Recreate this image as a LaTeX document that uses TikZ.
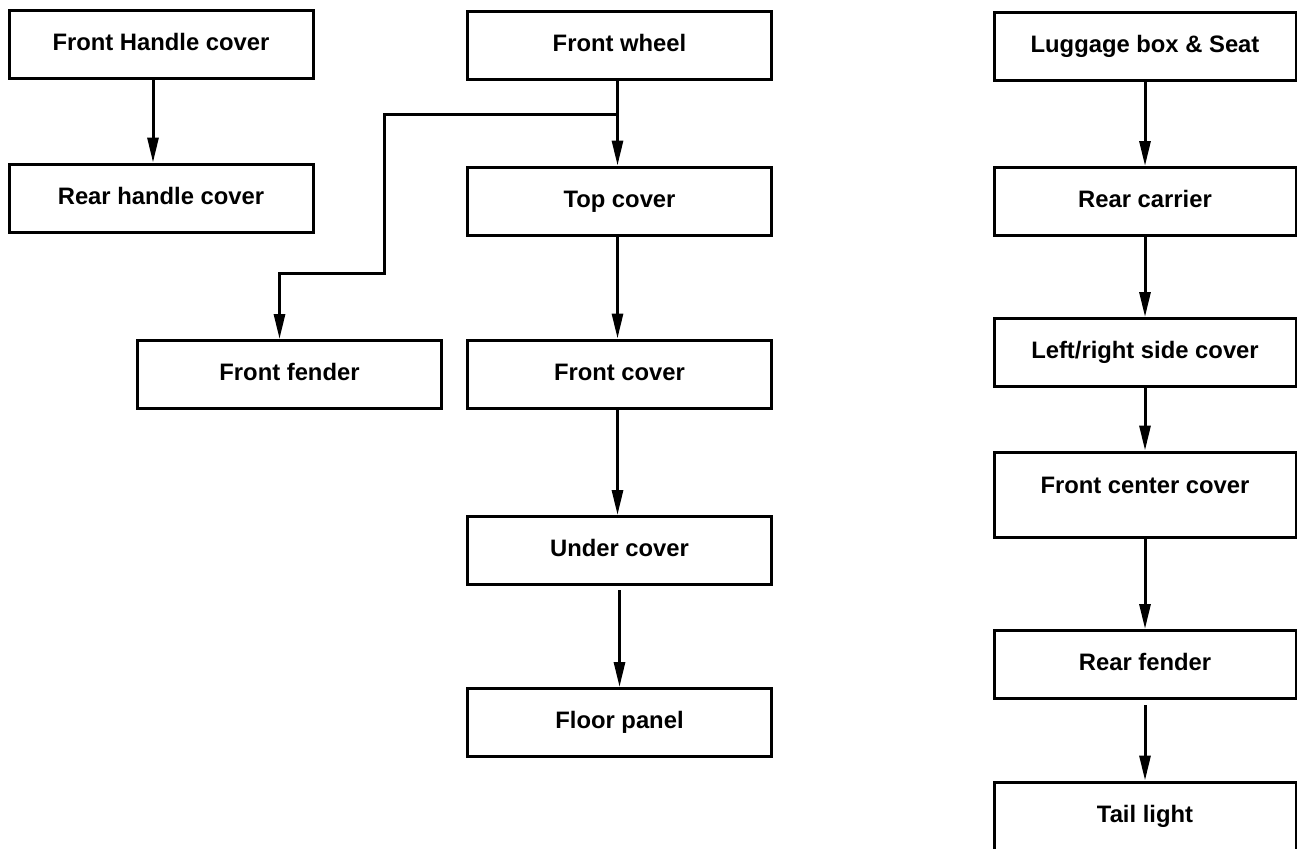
\documentclass[tikz,border=0pt]{standalone}
\usepackage{fontspec}
\setmainfont{Liberation Sans}
\usetikzlibrary{arrows.meta}

\begin{document}
\begin{tikzpicture}[x=1pt, y=-1pt,
    part/.style={draw, line width=3pt, minimum width=304pt, minimum height=68pt, inner sep=0pt,
      font=\fontsize{23.8}{28}\selectfont\bfseries, text height=17pt, text depth=5pt},
    link/.style={line width=3pt, -{Triangle[length=25pt,width=11pt]}}]
        \useasboundingbox (0,0) rectangle (1297,848);
        \clip (0,0) rectangle (1297,848);

        \node[part] (fhandle) at (161,45) {Front Handle cover};
        \node[part] (rhandle) at (161,198) {Rear handle cover};
        \draw[link] ([xshift=-8pt]fhandle.south) -- ([xshift=-8pt]rhandle.north);

        \node[part] (fwheel) at (619.5,46) {Front wheel};
        \node[part] (tcover) at (619.5,201) {Top cover};
        \node[part] (ffender) at (289.5,374.5) {Front fender};
        \node[part] (fcover) at (619.5,374) {Front cover};
        \node[part] (ucover) at (619.5,550.5) {Under cover};
        \node[part] (fpanel) at (619.5,722.5) {Floor panel};

        \draw[link] ([xshift=-2pt]fwheel.south) -- ([xshift=-2pt]tcover.north);
        \coordinate (split) at ([xshift=-2pt,yshift=-33pt]fwheel.south);
        \coordinate (jog) at (384,273);
        \draw[link] (split) -| (jog) -| ([xshift=-10pt]ffender.north);
        \draw[link] ([xshift=-2pt]tcover.south) -- ([xshift=-2pt]fcover.north);
        \draw[link] ([xshift=-2pt]fcover.south) -- ([xshift=-2pt]ucover.north);
        \draw[link, shorten <=4pt] (ucover.south) -- (fpanel.north);

        \node[part, minimum width=302pt] (luggage) at (1145,47) {Luggage box \& Seat};
        \node[part, minimum width=302pt] (rcarrier) at (1145,201.5) {Rear carrier};
        \node[part, minimum width=302pt] (sidecover) at (1145,352.5) {Left/right side cover};
        \node[part, minimum width=302pt, minimum height=85pt, text depth=19.6pt] (fccover) at (1145,494.5) {Front center cover};
        \node[part, minimum width=302pt] (rfender) at (1145,664.5) {Rear fender};
        \node[part, minimum width=302pt] (tlight) at (1145,816) {Tail light};

        \draw[link] (luggage.south) -- (rcarrier.north);
        \draw[link] (rcarrier.south) -- (sidecover.north);
        \draw[link] (sidecover.south) -- (fccover.north);
        \draw[link] (fccover.south) -- (rfender.north);
        \draw[link, shorten <=5pt] (rfender.south) -- (tlight.north);
      \end{tikzpicture}
\end{document}
